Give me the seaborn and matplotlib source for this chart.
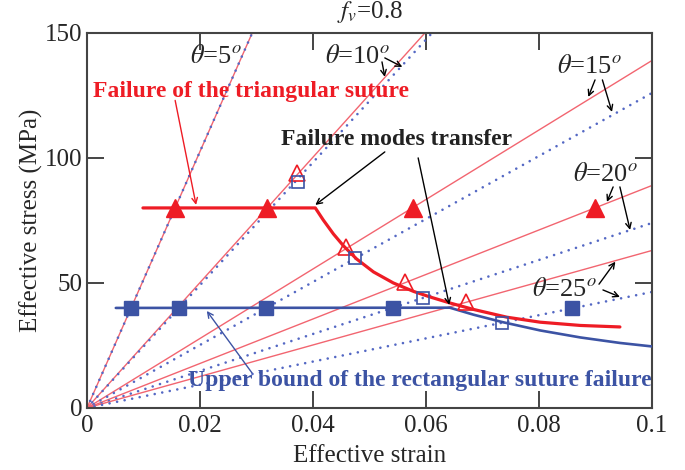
import matplotlib
matplotlib.use("Agg")
import matplotlib.pyplot as plt
import pandas as pd
import seaborn as sns

sns.set_theme(style="ticks")
plt.rcParams["font.family"] = ["Liberation Serif", "DejaVu Serif"]
plt.rcParams["mathtext.fontset"] = "stix"

# slopes (MPa per unit strain) of the elastic lines for theta = 5..25 deg
angles = [5, 10, 15, 20, 25]
tri_slopes = [5130, 2508, 1390, 890, 630]
rect_slopes = [5130, 2456, 1260, 740, 464]

# thick red curve: failure of the triangular suture
tri_fail_x = [0.0099, 0.0404, 0.0418, 0.0436, 0.0454, 0.0477, 0.0507, 0.0542, 0.0578,
              0.0607, 0.0642, 0.0684, 0.0743, 0.0802, 0.0873, 0.0943]
tri_fail_y = [80, 80, 75.2, 69.6, 64.8, 59.6, 54.4, 50.0, 46.6,
              44.4, 42.0, 39.4, 36.3, 34.3, 33.0, 32.4]

# thick blue curve: upper bound of the rectangular suture failure
rect_fail_x = [0.0051, 0.0642, 0.0684, 0.0734, 0.0802, 0.0873, 0.0943, 0.1]
rect_fail_y = [40, 40.1, 37.3, 34.4, 31.0, 28.2, 26.0, 24.6]

# markers
tri_filled_x = [0.0156, 0.0319, 0.0576, 0.0899]
tri_filled_y = [80, 80, 80, 80]
tri_open_x = [0.0372, 0.0458, 0.0562, 0.0670]
tri_open_y = [94, 64.5, 50.2, 42.4]
sq_filled_x = [0.0078, 0.0163, 0.0317, 0.0541, 0.0858]
sq_filled_y = [40, 40, 40, 40, 40]
sq_open_x = [0.0373, 0.0474, 0.0595, 0.0735]
sq_open_y = [90.4, 60, 44, 34]

RED = "#ee1c25"
RED_THIN = "#f26570"
BLUE = "#3c53a4"
BLUE_DOT = "#5468c4"

fig = plt.figure(figsize=(6.85, 4.70), dpi=100)
ax = fig.add_axes([0.127, 0.132, 0.825, 0.798])

for s_tri, s_rect in zip(tri_slopes, rect_slopes):
    ax.axline((0, 0), slope=s_tri, color=RED_THIN, lw=1.0, zorder=2)
    ax.axline((0, 0), slope=s_rect, color=BLUE_DOT, lw=1.9,
              linestyle=(0, (0.01, 2.9)), dash_capstyle="round", zorder=2)

curves = pd.DataFrame({"strain": tri_fail_x, "stress": tri_fail_y})
sns.lineplot(data=curves, x="strain", y="stress", color=RED, lw=2.3, sort=False, ax=ax, zorder=4)
curves = pd.DataFrame({"strain": rect_fail_x, "stress": rect_fail_y})
sns.lineplot(data=curves, x="strain", y="stress", color=BLUE, lw=1.9, sort=False, ax=ax, zorder=4)

ax.plot(tri_filled_x, tri_filled_y, "^", ms=13, color=RED, mec=RED, zorder=5)
ax.plot(tri_open_x, tri_open_y, "^", ms=12, mfc="none", mec=RED, mew=1.2, zorder=5)
ax.plot(sq_filled_x, sq_filled_y, "s", ms=10, color=BLUE, mec=BLUE, zorder=5)
ax.plot(sq_open_x, sq_open_y, "s", ms=8, mfc="none", mec=BLUE, mew=1.2, zorder=5)

ax.set_xlim(0, 0.1)
ax.set_ylim(0, 150)
ax.set_xticks([0, 0.02, 0.04, 0.06, 0.08, 0.1])
ax.set_xticklabels(["0", "0.02", "0.04", "0.06", "0.08", "0.1"])
ax.set_yticks([0, 50, 100, 150])
ax.set_yticklabels(["0", "50", "100", "150"])
ax.tick_params(direction="in", length=12, width=1.4, color="#444444", labelsize=18,
               top=True, right=True, pad=3)
ax.tick_params(axis="x", pad=5)
for sp in ax.spines.values():
    sp.set_color("#444444")
    sp.set_linewidth(1.5)
ax.set_xlabel("Effective strain", fontsize=18, labelpad=6)
ax.set_ylabel("Effective stress (MPa)", fontsize=18, labelpad=2)

ax.text(0.5, 1.056, r"$f_v$=0.8", transform=ax.transAxes, ha="center", va="center", fontsize=18)

# theta labels
th = dict(fontsize=19, ha="center", va="center", zorder=6)
ax.text(0.0228, 140.5, r"$\theta$=5$^o$", **th)
ax.text(0.0478, 140.5, r"$\theta$=10$^o$", **th)
ax.text(0.0890, 136.4, r"$\theta$=15$^o$", **th)
ax.text(0.0917, 93.2, r"$\theta$=20$^o$", **th)
ax.text(0.0845, 47.2, r"$\theta$=25$^o$", **th)

arr = dict(arrowstyle="->", lw=1.0, color="black", shrinkA=0, shrinkB=0, mutation_scale=10)
theta_arrows = [
    ((0.0522, 138.4), (0.0527, 132.4)),
    ((0.0527, 140.0), (0.0558, 136.4)),
    ((0.0899, 131.2), (0.0887, 124.4)),
    ((0.0912, 131.2), (0.0929, 118.4)),
    ((0.0931, 88.4), (0.0920, 82.4)),
    ((0.0943, 88.4), (0.0961, 71.2)),
    ((0.0906, 49.5), (0.0935, 58.5)),
    ((0.0913, 47.2), (0.0943, 44.4)),
]
for start, end in theta_arrows:
    ax.annotate("", xy=end, xytext=start, arrowprops=arr, zorder=6)

ax.text(0.0290, 126.4, "Failure of the triangular suture", color=RED, fontsize=17,
        fontweight="bold", ha="center", va="center", zorder=6)
ax.annotate("", xy=(0.0193, 81.2), xytext=(0.0156, 123.0),
            arrowprops=dict(arr, color=RED), zorder=6)

ax.text(0.0547, 107.2, "Failure modes transfer", color="#222222", fontsize=17,
        fontweight="bold", ha="center", va="center", zorder=6)
ax.annotate("", xy=(0.0404, 81.2), xytext=(0.0527, 102.4), arrowprops=arr, zorder=6)
ax.annotate("", xy=(0.0641, 41.2), xytext=(0.0586, 100.0), arrowprops=arr, zorder=6)

ax.text(0.0589, 10.8, "Upper bound of the rectangular suture failure", color=BLUE, fontsize=17,
        fontweight="bold", ha="center", va="center", zorder=6)
ax.annotate("", xy=(0.0212, 38.8), xytext=(0.0292, 14.0),
            arrowprops=dict(arr, color=BLUE), zorder=6)

fig.savefig("out.png", dpi=100)
